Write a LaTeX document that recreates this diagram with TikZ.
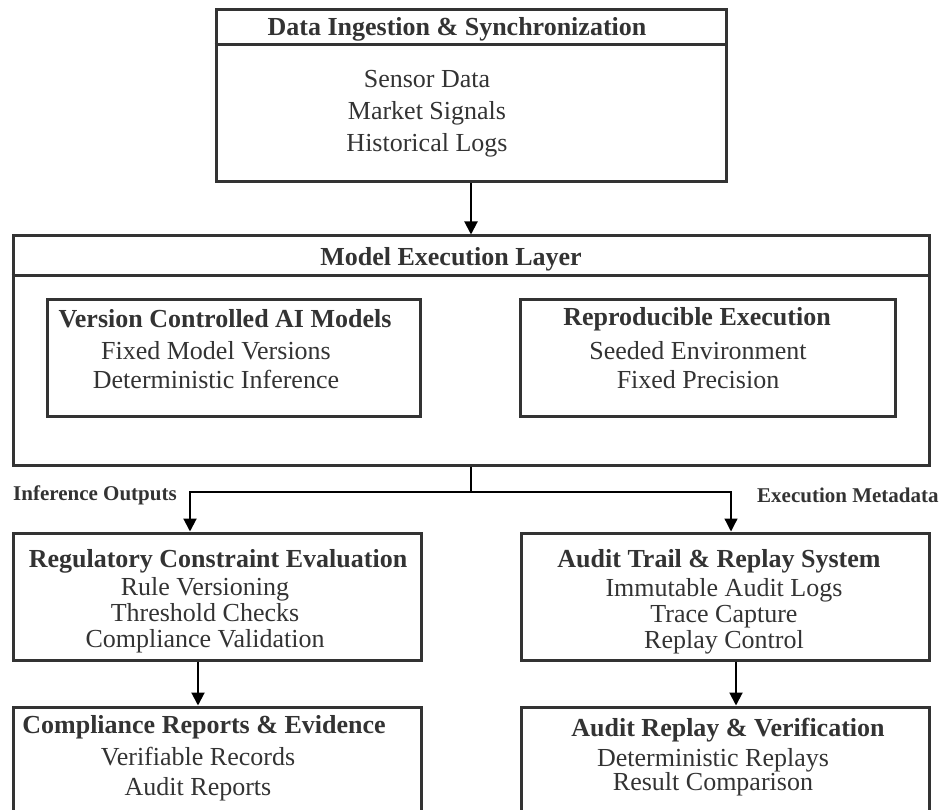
\documentclass[tikz,border=0pt]{standalone}
\usepackage{fontspec}
\setmainfont{Liberation Serif}
\usetikzlibrary{positioning, arrows.meta, calc}
\definecolor{ink}{HTML}{333333}
\tikzset{every node/.append style={text=ink}}

\begin{document}
\begin{tikzpicture}[x=1pt,y=-1pt,>={Triangle[length=13pt,width=13pt]},
  box/.style={draw=ink,line width=3pt,inner sep=0pt},
  sep/.style={draw=ink,line width=2.5pt},
  ttl/.style={font=\fontsize{26}{29}\selectfont\bfseries,inner sep=0pt},
  body/.style={font=\fontsize{26}{#1}\selectfont,align=center,inner sep=0pt},
  body/.default=30,
  lbl/.style={font=\fontsize{21}{24}\selectfont\bfseries,inner sep=0pt},
  flow/.style={->,line width=2pt,black}]
  \useasboundingbox (0,0) rectangle (940,810);
  \clip (0,0) rectangle (940,810);

  % input layer
  \node[box,minimum width=510pt,minimum height=172pt] (ingest) at (471,96) {};
  \draw[sep] ($(ingest.north west)+(0,36)$) -- ($(ingest.north east)+(0,36)$);
  \node[ttl] (ingestttl) at (457,29) {Data Ingestion \& Synchronization};
  \node[body=32] (ingestbody) at (427,114) {Sensor Data\\Market Signals\\Historical Logs};

  % model layer
  \node[box,minimum width=916pt,minimum height=229pt] (exec) at (471,350.5) {};
  \draw[sep] ($(exec.north west)+(0,41)$) -- ($(exec.north east)+(0,41)$);
  \node[ttl] (execttl) at (451,259) {Model Execution Layer};
  \node[box,minimum width=373pt,minimum height=116pt] (vcm) at (233.5,358) {};
  \node[ttl] (vcmttl) at (225,319) {Version Controlled AI Models};
  \node[body=29] (vcmbody) at (216,365) {Fixed Model Versions\\Deterministic Inference};
  \node[box,minimum width=375pt,minimum height=116pt] (repro) at (707.5,358) {};
  \node[ttl] (reprottl) at (697,319) {Reproducible Execution};
  \node[body=29] (reprobody) at (698,365) {Seeded Environment\\Fixed Precision};

  % evaluation + audit
  \node[box,minimum width=408pt,minimum height=127pt] (reg) at (217,596.5) {};
  \node[ttl] (regttl) at (218,561) {Regulatory Constraint Evaluation};
  \node[body=26] (regbody) at (205,615) {Rule Versioning\\Threshold Checks\\Compliance Validation};
  \node[box,minimum width=408pt,minimum height=127pt] (audit) at (725,596.5) {};
  \node[ttl] (auditttl) at (719,561) {Audit Trail \& Replay System};
  \node[body=26] (auditbody) at (724,616) {Immutable Audit Logs\\Trace Capture\\Replay Control};

  % outputs (run off the page)
  \node[box,minimum width=408pt,minimum height=133pt] (report) at (217,773.5) {};
  \node[ttl] (reportttl) at (204,727) {Compliance Reports \& Evidence};
  \node[body=30] (reportbody) at (198,774) {Verifiable Records\\Audit Reports};
  \node[box,minimum width=408pt,minimum height=133pt] (replay) at (725,773.5) {};
  \node[ttl] (replayttl) at (728,730) {Audit Replay \& Verification};
  \node[body=24] (replaybody) at (713,772) {Deterministic Replays\\Result Comparison};

  % connectors
  \coordinate (lbend) at (190,492);
  \coordinate (rbend) at (731,492);
  \draw[flow] (ingest.south) -- (exec.north);
  \draw[flow] (exec.south) |- (lbend) -- (lbend |- reg.north);
  \draw[flow,line width=1.3pt] (exec.south |- rbend) -- (rbend) -- (rbend |- audit.north);
  \draw[flow] ($(reg.south)+(-19,0)$) -- ($(report.north)+(-19,0)$);
  \draw[flow] ($(audit.south)+(11,0)$) -- ($(replay.north)+(11,0)$);

  \node[lbl,anchor=west] (outlbl) at (13,495) {Inference Outputs};
  \node[lbl,anchor=west] (metalbl) at (757,495) {Execution Metadata};
\end{tikzpicture}
\end{document}
